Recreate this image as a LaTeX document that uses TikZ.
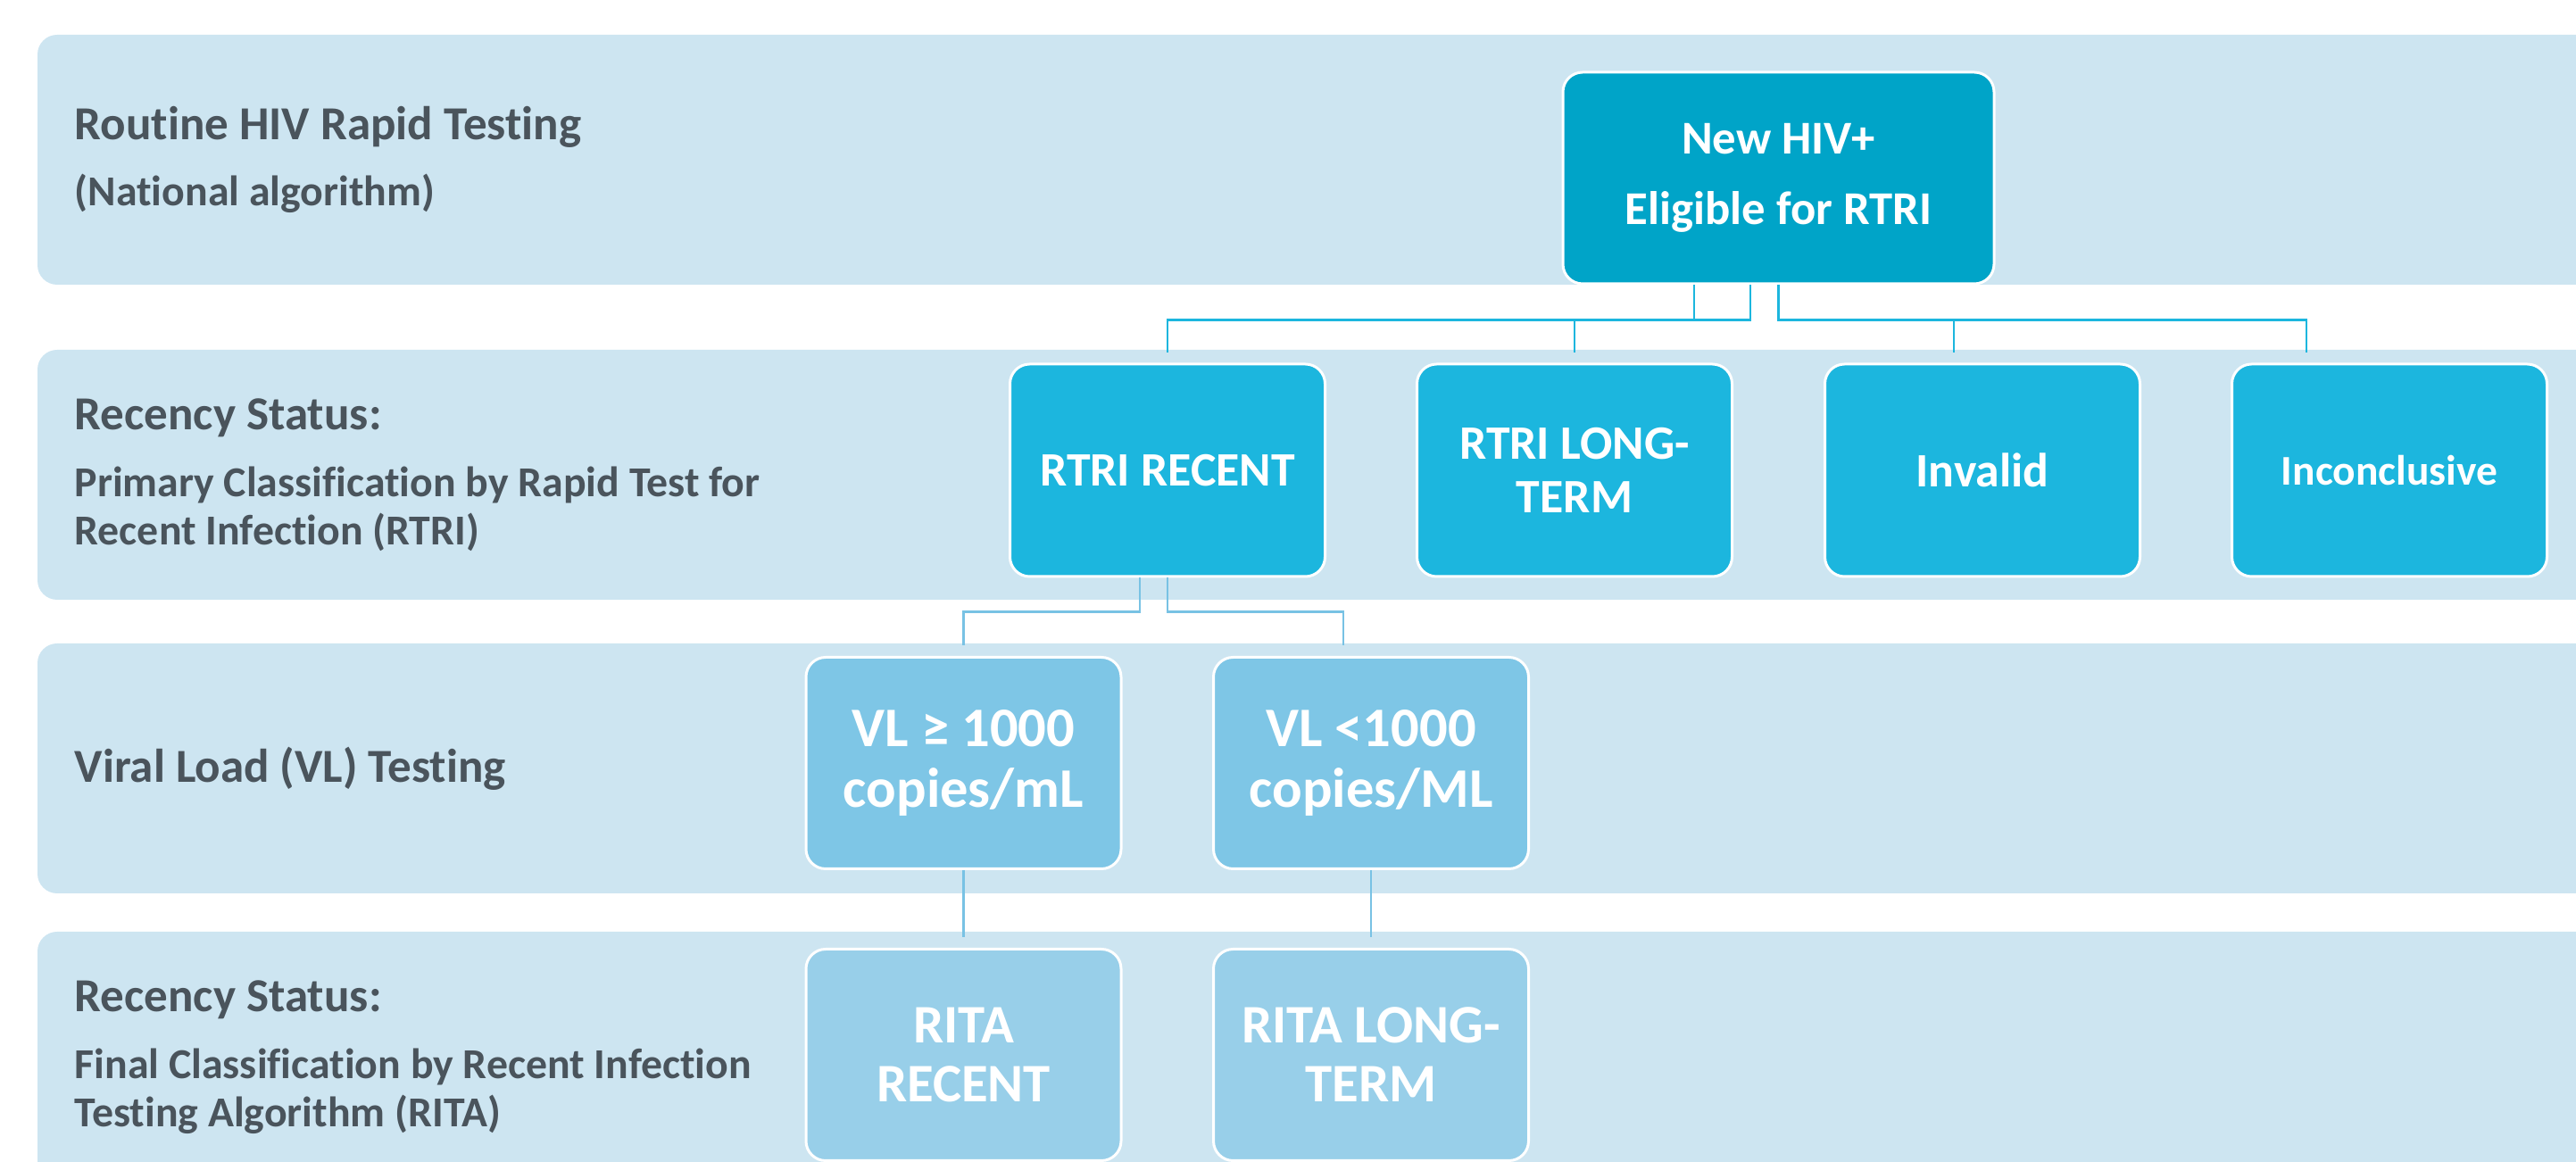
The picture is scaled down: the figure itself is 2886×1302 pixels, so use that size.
\documentclass[tikz,border=0pt]{standalone}
\usepackage{fontspec}
\setmainfont{Carlito}[Ligatures=NoCommon]
\usetikzlibrary{calc}
\definecolor{bandc}{HTML}{CDE5F1}
\definecolor{topc}{HTML}{00A4C8}
\definecolor{midc}{HTML}{1CB6DE}
\definecolor{vlc}{HTML}{7EC6E6}
\definecolor{ritac}{HTML}{98CFE9}
\definecolor{labc}{HTML}{4A545C}
\definecolor{conn2c}{HTML}{78C2E4}
\tikzset{
  band/.style={fill=bandc, draw=none, rounded corners=2.2mm},
  boxbase/.style={draw=white, line width=0.3mm, rounded corners=2.2mm, text=white, align=center, font=\bfseries, inner sep=0pt},
  topbox/.style={boxbase, fill=topc, minimum width=48.3mm, minimum height=23.7mm, font=\bfseries\fontsize{15pt}{22.5pt}\selectfont},
  midbox/.style={boxbase, fill=midc, minimum width=35.3mm, minimum height=23.8mm, font=\bfseries\fontsize{15.3pt}{17pt}\selectfont},
  vlbox/.style={boxbase, fill=vlc, minimum width=35.3mm, minimum height=23.7mm, font=\bfseries\fontsize{17.8pt}{19.3pt}\selectfont},
  ritabox/.style={boxbase, fill=ritac, minimum width=35.3mm, minimum height=23.7mm, font=\bfseries\fontsize{17.3pt}{18.8pt}\selectfont},
  lab/.style={anchor=base west, inner sep=0pt, text=labc, font=\bfseries\fontsize{15.1pt}{17pt}\selectfont},
  sublab/.style={anchor=base west, inner sep=0pt, text=labc, font=\bfseries\fontsize{13.6pt}{15pt}\selectfont},
  conn/.style={draw=midc, line width=0.25mm},
  conn2/.style={draw=conn2c, line width=0.25mm},
}
\begin{document}
\begin{tikzpicture}[x=0.1mm,y=-0.1mm]
\useasboundingbox (0,0) rectangle (2886,1302);
\clip (0,0) rectangle (2886,1302);
% bands
\path[band] (42,39) rectangle (2960,319);
\path[band] (42,392) rectangle (2960,672);
\path[band] (42,721) rectangle (2960,1001);
\path[band] (42,1044) rectangle (2960,1330);
% labels
\node[lab] (l1a) at (83,157) {Routine HIV Rapid Testing};
\node[sublab] (l1b) at (83,231) {(National algorithm)};
\node[lab] (l2a) at (83,482) {Recency Status:};
\node[sublab] (l2b) at (83,557) {Primary Classification by Rapid Test for};
\node[sublab] (l2c) at (83,611) {Recent Infection (RTRI)};
\node[lab] (l3a) at (83,877) {Viral Load (VL) Testing};
\node[lab] (l4a) at (83,1134) {Recency Status:};
\node[sublab] (l4b) at (83,1209) {Final Classification by Recent Infection};
\node[sublab] (l4c) at (83,1263) {Testing Algorithm (RITA)};
% boxes
\node[topbox] (n1) at (1992.5,199.5) {New HIV+\\Eligible for RTRI};
\node[midbox] (r1) at (1308,527) {RTRI RECENT};
\node[midbox] (r2) at (1764,527) {RTRI LONG-\\TERM};
\node[midbox] (r3) at (2221,527) {Invalid};
\node[midbox, font=\bfseries\fontsize{13.5pt}{15pt}\selectfont] (r4) at (2677,527) {Inconclusive};
\node[vlbox] (v1) at (1079.5,855) {VL ≥ 1000\\copies/mL};
\node[vlbox] (v2) at (1536,855) {VL <1000\\copies/ML};
\node[ritabox] (t1) at (1079.5,1182) {RITA\\RECENT};
\node[ritabox] (t2) at (1536,1182) {RITA LONG-\\TERM};
% connectors
\draw[conn, shorten >=1.1mm] ($(n1.south)+(-94.5,0)$) -- ++(0,39) -| (r1.north);
\draw[conn, shorten >=1.1mm] ($(n1.south)+(-31.5,0)$) -- ++(0,39) -| (r2.north);
\draw[conn, shorten >=1.1mm] (n1.south) -- ++(0,39) -| ($(r3.north)+(-32,0)$);
\draw[conn, shorten >=1.1mm] (n1.south) -- ++(0,39) -| ($(r4.north)+(-93,0)$);
\draw[conn2, shorten >=1.2mm] ($(r1.south)+(-31,0)$) -- ++(0,38) -| (v1.north);
\draw[conn2, shorten >=1.2mm] (r1.south) -- ++(0,38) -| ($(v2.north)+(-31,0)$);
\draw[conn2, shorten >=1.2mm] (v1.south) -- (t1.north);
\draw[conn2, shorten >=1.2mm] (v2.south) -- (t2.north);
\end{tikzpicture}
\end{document}
